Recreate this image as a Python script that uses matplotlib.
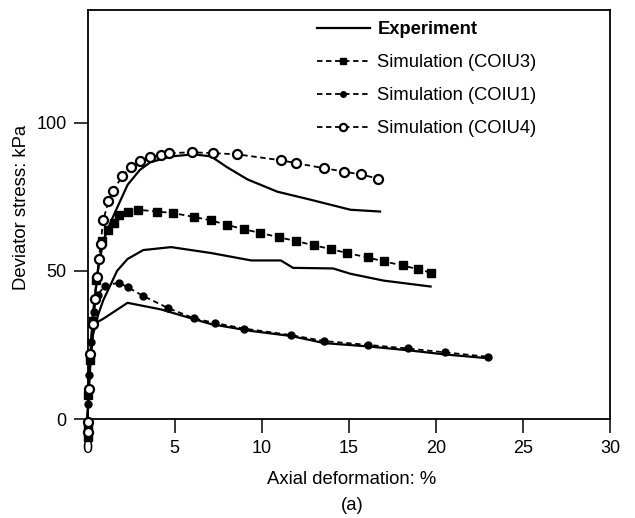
import matplotlib
matplotlib.use("Agg")
import matplotlib.pyplot as plt

plt.rcParams['font.family'] = ['Liberation Sans', 'DejaVu Sans']

# Experiment curves (solid)
exp1_x = [0, 0.1, 0.3, 0.6, 0.9, 1.3, 1.6, 2.3, 3.0, 3.6, 4.8, 6.1, 7.1, 8.0, 9.2, 10.9, 12.8, 15.1, 16.8]
exp1_y = [0, 15, 35, 50, 60, 66, 70, 79, 84, 86.6, 88.6, 89.3, 88.6, 85, 80.8, 76.7, 74, 70.6, 70]
exp2_x = [0, 0.1, 0.3, 0.6, 0.9, 1.7, 2.3, 3.2, 4.8, 7.1, 9.4, 11.1, 11.8, 14.1, 15.1, 17.0, 19.7]
exp2_y = [0, 15, 28, 35, 40, 50, 54, 57, 58, 56, 53.5, 53.5, 51, 50.8, 49, 46.7, 44.7]
exp3_x = [0, 0.1, 0.2, 0.35, 0.9, 2.3, 4.2, 7.1, 9.4, 11.7, 13.6, 16.1, 18.4, 20.5, 23.0]
exp3_y = [0, 12, 22, 32, 33.8, 39.2, 37, 32, 29.7, 28, 25.6, 24.5, 23.2, 21.8, 20.5]

# Simulation (COIU3) - squares
c3_x = [0, 0, 0.05, 0.15, 0.3, 0.5, 0.85, 1.2, 1.5, 1.8, 2.3, 2.9, 4.0, 4.9, 6.1, 7.1, 8.0, 9.0, 9.9,
        11.0, 12.0, 13.0, 14.0, 14.9, 16.1, 17.0, 18.1, 19.0, 19.7]
c3_y = [-6, -2, 8, 20, 33, 47, 60, 63.8, 66, 69, 70, 70.6, 70, 69.5, 68.2, 67, 65.5, 64, 62.8,
        61.3, 60, 58.6, 57.3, 56, 54.5, 53.2, 51.8, 50.5, 49.4]

# Simulation (COIU1) - small dots
c1_x = [0, 0.03, 0.1, 0.2, 0.35, 0.6, 1.0, 1.8, 2.3, 3.2, 4.6, 6.1, 7.3, 9.0, 11.7, 13.6, 16.1, 18.4, 20.5, 23.0]
c1_y = [-3, 5, 15, 26, 36, 42, 45, 46, 44.5, 41.5, 37.5, 34, 32.4, 30.5, 28.3, 26.3, 25, 23.8, 22.5, 21]

# Simulation (COIU4) - circles
c4_x = [0, 0, 0.06, 0.17, 0.3, 0.45, 0.55, 0.65, 0.75, 0.9, 1.2, 1.45, 2.0, 2.5, 3.0, 3.6, 4.2, 4.7,
        6.0, 7.2, 8.6, 11.1, 12.0, 13.6, 14.7, 15.7, 16.7]
c4_y = [-4.5, -1, 10, 21.8, 32, 40.6, 48, 54, 59, 67, 73.4, 76.8, 82, 85, 87, 88.3, 89, 89.7,
        90, 89.7, 89.3, 87.3, 86.3, 84.6, 83.5, 82.5, 81.1]

x_ticks = [0, 5, 10, 15, 20, 25, 30]
y_ticks = [0, 50, 100]

fig = plt.figure(figsize=(6.35, 5.18), dpi=100)
ax = fig.add_axes([0.1378, 0.1911, 0.8228, 0.7896])

k = dict(clip_on=False, zorder=3)
l_exp, = ax.plot(exp1_x, exp1_y, '-', color='black', lw=1.6, label='Experiment', **k)
ax.plot(exp2_x, exp2_y, '-', color='black', lw=1.6, **k)
ax.plot(exp3_x, exp3_y, '-', color='black', lw=1.6, **k)

l3, = ax.plot(c3_x, c3_y, '--', color='black', lw=1.3, dashes=(3, 2), marker='s', ms=6,
              mfc='black', mec='black', label='Simulation (COIU3)', **k)
l1, = ax.plot(c1_x, c1_y, '--', color='black', lw=1.3, dashes=(3, 2), marker='o', ms=5,
              mfc='black', mec='black', label='Simulation (COIU1)', **k)
l4, = ax.plot(c4_x, c4_y, '--', color='black', lw=1.3, dashes=(3, 2), marker='o', ms=6.5,
              mfc='white', mec='black', mew=1.6, label='Simulation (COIU4)', **k)

ax.set_xlim(0, 30)
ax.set_ylim(0, 138)
ax.set_xticks(x_ticks)
ax.set_yticks(y_ticks)
ax.tick_params(direction='out', length=10, width=1.1, labelsize=13, colors='black', pad=5)
for s in ax.spines.values():
    s.set_linewidth(1.3)

fig.text(352 / 635, 1 - 480 / 518, 'Axial deformation: %', ha='center', va='center', fontsize=13.3)
fig.text(22 / 635, 1 - 207 / 518, 'Deviator stress: kPa', ha='center', va='center',
         rotation=90, fontsize=13.3)
fig.text(352 / 635, 1 - 506 / 518, '(a)', ha='center', va='center', fontsize=13.3)

leg = ax.legend(handles=[l_exp, l3, l1, l4], loc='upper left', bbox_to_anchor=(0.439, 0.972),
                frameon=False, fontsize=13.2, handlelength=2.9, labelspacing=0.87,
                handletextpad=0.4, borderpad=0, borderaxespad=0, markerscale=0.8)
leg.get_texts()[0].set_fontweight('bold')

fig.savefig('out.png', dpi=100)
